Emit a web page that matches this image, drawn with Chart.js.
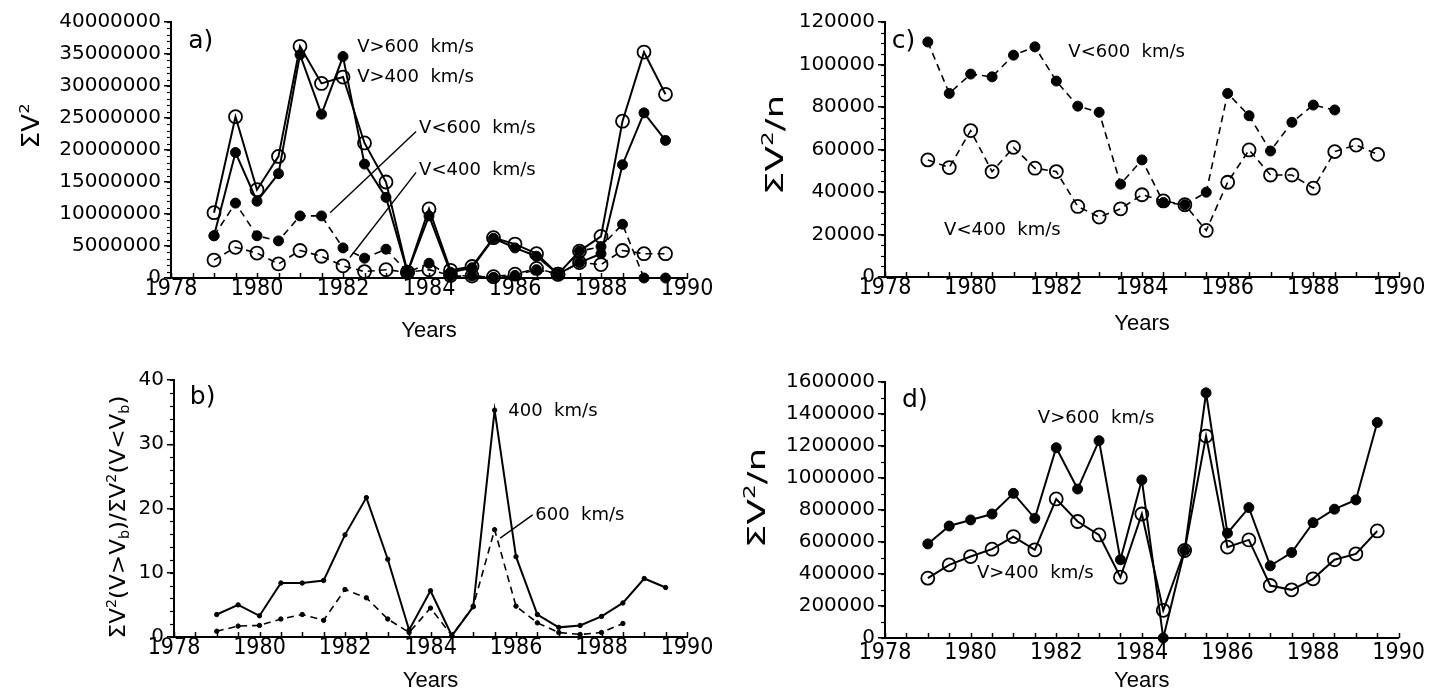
<!DOCTYPE html>
<html>
<head>
<meta charset="utf-8">
<script src="https://cdn.jsdelivr.net/npm/chart.js@4.4.0/dist/chart.umd.min.js"></script>
<style>
  html, body { margin: 0; padding: 0; background: #fff; }
  #wrap { position: relative; width: 1429px; height: 695px; }
  canvas { position: absolute; }
</style>
</head>
<body>
<div id="wrap">
  <canvas id="pa" width="714" height="347" style="left:0;top:0"></canvas>
  <canvas id="pb" width="714" height="348" style="left:0;top:347px"></canvas>
  <canvas id="pc" width="715" height="347" style="left:714px;top:0"></canvas>
  <canvas id="pd" width="715" height="348" style="left:714px;top:347px"></canvas>
</div>
<script>
// half-year bins
const years = [1979, 1979.5, 1980, 1980.5, 1981, 1981.5, 1982, 1982.5, 1983, 1983.5, 1984, 1984.5,
  1985, 1985.5, 1986, 1986.5, 1987, 1987.5, 1988, 1988.5, 1989, 1989.5];

// a) sum of V^2
const aAbove600 = [6.6e6, 19.6e6, 12.0e6, 16.3e6, 34.9e6, 25.6e6, 34.6e6, 17.8e6, 12.6e6, 0.9e6, 9.7e6, 0.9e6,
  1.6e6, 6.2e6, 4.7e6, 3.4e6, 0.6e6, 2.4e6, 3.8e6, 17.7e6, 25.8e6, 21.5e6];
const aAbove400 = [10.2e6, 25.2e6, 13.8e6, 19.0e6, 36.2e6, 30.4e6, 31.4e6, 21.1e6, 15.0e6, 0.9e6, 10.8e6, 1.2e6,
  1.8e6, 6.3e6, 5.3e6, 3.8e6, 0.6e6, 4.2e6, 6.5e6, 24.5e6, 35.3e6, 28.7e6];
const aBelow600 = [6.6e6, 11.7e6, 6.6e6, 5.8e6, 9.7e6, 9.7e6, 4.7e6, 3.1e6, 4.5e6, 0.9e6, 2.3e6, 0.3e6,
  0.3e6, 0.1e6, 0.4e6, 1.3e6, 0.6e6, 4.2e6, 4.9e6, 8.4e6, 0, 0];
const aBelow400 = [2.8e6, 4.8e6, 3.9e6, 2.2e6, 4.3e6, 3.4e6, 1.9e6, 1.0e6, 1.3e6, 0.9e6, 1.3e6, 0.4e6,
  0.3e6, 0.2e6, 0.6e6, 1.5e6, 0.6e6, 2.4e6, 2.1e6, 4.3e6, 3.8e6, 3.8e6];

// b) ratio above / below boundary speed
const bRatio400 = [3.5, 5.0, 3.3, 8.4, 8.4, 8.8, 15.9, 21.7, 12.1, 1.1, 7.2, 0.2,
  4.7, 35.3, 12.5, 3.5, 1.5, 1.8, 3.2, 5.3, 9.1, 7.7];
const bRatio600 = [0.9, 1.7, 1.8, 2.8, 3.5, 2.6, 7.4, 6.1, 2.8, 0.7, 4.5, 0.2,
  4.8, 16.7, 4.8, 2.2, 0.7, 0.4, 0.7, 2.1];

// c) mean V^2, slow wind
const cBelow600 = [110600, 86400, 95500, 94200, 104400, 108300, 92200, 80400, 77500, 43700, 55100, 35100,
  34000, 39900, 86400, 75900, 59300, 72800, 80900, 78600];
const cBelow400 = [55100, 51500, 68900, 49600, 61000, 51200, 49600, 33200, 28200, 32100, 38700, 35800,
  34000, 21900, 44600, 59800, 48000, 48000, 41800, 59000, 62100, 57700];

// d) mean V^2, fast wind
const dAbove600 = [588000, 700000, 738000, 775000, 904000, 748000, 1189000, 931000, 1233000, 489000, 988000, 0,
  547000, 1532000, 655000, 815000, 451000, 534000, 721000, 805000, 863000, 1347000];
const dAbove400 = [374000, 457000, 509000, 555000, 634000, 551000, 869000, 728000, 644000, 380000, 775000, 173000,
  547000, 1262000, 568000, 613000, 328000, 301000, 370000, 489000, 526000, 669000];

const FONT = "'DejaVu Sans', sans-serif";
const XFONT = "'Liberation Sans Narrow', 'DejaVu Sans Condensed', 'Liberation Sans', sans-serif";

function series(values, filled, dashed, r) {
  return {
    data: values.map((v, i) => ({ x: years[i], y: v })),
    borderColor: "#000",
    borderWidth: dashed ? 1.6 : 2,
    borderDash: dashed ? [7, 5] : [],
    pointRadius: r,
    pointHoverRadius: r,
    pointBackgroundColor: filled ? "#000" : "rgba(0,0,0,0)",
    pointBorderColor: "#000",
    pointBorderWidth: filled ? 1 : 1.8,
    tension: 0,
    fill: false,
    clip: false,
  };
}

function richTitle(ctx, t) {
  const base = t.size;
  const parts = t.parts.map((p) => {
    const sz = p.k === "n" ? base : base * 0.62;
    ctx.font = sz + "px " + FONT;
    return { text: p.t, k: p.k, sz: sz, w: ctx.measureText(p.t).width };
  });
  const total = parts.reduce((s, p) => s + p.w, 0);
  ctx.save();
  ctx.fillStyle = "#000";
  ctx.translate(t.cx, t.cy);
  ctx.rotate(-Math.PI / 2);
  ctx.scale(t.stretch, 1);
  let x = -total / 2;
  ctx.textAlign = "left";
  ctx.textBaseline = "alphabetic";
  for (const p of parts) {
    ctx.font = p.sz + "px " + FONT;
    let y = base * 0.36;
    if (p.k === "sup") y -= base * 0.42;
    if (p.k === "sub") y += base * 0.2;
    ctx.fillText(p.text, x, y);
    x += p.w;
  }
  ctx.restore();
}

const decorFor = {};

const decor = {
  id: "decor",
  afterDraw(chart) {
    const d = decorFor[chart.canvas.id];
    if (!d) return;
    const ctx = chart.ctx;
    const xs = chart.scales.x;
    const ys = chart.scales.y;
    const area = chart.chartArea;
    ctx.save();
    ctx.strokeStyle = "#000";
    ctx.fillStyle = "#000";
    ctx.setLineDash([]);

    // inward x ticks every half year
    ctx.lineWidth = 1.5;
    for (let v = xs.min; v <= xs.max + 1e-9; v += 0.5) {
      const px = Math.round(xs.getPixelForValue(v)) + 0.5;
      ctx.beginPath();
      ctx.moveTo(px, area.bottom);
      ctx.lineTo(px, area.bottom - 5);
      ctx.stroke();
    }
    // minor y ticks
    ctx.lineWidth = 1.2;
    for (let v = ys.min; v <= ys.max + 1e-9; v += d.yMinor) {
      const py = Math.round(ys.getPixelForValue(v)) + 0.5;
      ctx.beginPath();
      ctx.moveTo(area.left, py);
      ctx.lineTo(area.left - 4, py);
      ctx.stroke();
    }
    // leader lines
    ctx.lineWidth = 1.4;
    for (const l of d.lines) {
      ctx.beginPath();
      ctx.moveTo(xs.getPixelForValue(l[0]), ys.getPixelForValue(l[1]));
      ctx.lineTo(xs.getPixelForValue(l[2]), ys.getPixelForValue(l[3]));
      ctx.stroke();
    }
    // in-plot texts
    ctx.textAlign = "left";
    ctx.textBaseline = "middle";
    for (const t of d.texts) {
      ctx.font = (t.size || 18) + "px " + FONT;
      ctx.fillText(t.t, xs.getPixelForValue(t.x), ys.getPixelForValue(t.y));
    }
    ctx.restore();
    richTitle(ctx, d.title);
  },
};

function makeChart(id, sets, cfg) {
  return new Chart(document.getElementById(id), {
    type: "line",
    data: { datasets: sets },
    options: {
      responsive: false,
      animation: false,
      events: [],
      layout: { padding: { left: 0, top: cfg.top, right: cfg.right, bottom: cfg.bottom } },
      plugins: { legend: { display: false }, tooltip: { enabled: false } },
      scales: {
        x: {
          type: "linear",
          min: 1978,
          max: 1990,
          afterFit: (s) => { s.height = cfg.xh; },
          grid: { display: true, drawOnChartArea: false, drawTicks: false },
          border: { display: true, color: "#000", width: 2 },
          ticks: {
            stepSize: 2,
            autoSkip: false,
            maxRotation: 0,
            color: "#000",
            padding: cfg.xpad,
            font: { family: XFONT, size: 23, lineHeight: 1 },
            callback: (v) => String(v),
          },
          title: {
            display: true,
            text: "Years",
            color: "#000",
            font: { family: "'Liberation Sans', sans-serif", size: 22, lineHeight: 1 },
            padding: { top: 0, bottom: 0 },
          },
        },
        y: {
          min: 0,
          max: cfg.ymax,
          afterFit: (s) => { s.width = cfg.yw; },
          grid: { display: true, drawOnChartArea: false, drawTicks: true, tickLength: 7, color: "#000", lineWidth: 1.5 },
          border: { display: true, color: "#000", width: 2 },
          ticks: {
            stepSize: cfg.ystep,
            color: "#000",
            padding: 3,
            font: { family: FONT, size: 20 },
            callback: (v) => String(v),
          },
        },
      },
    },
    plugins: [decor],
  });
}

// Chart.js paints the first dataset on top, so filled markers come first.

// ---- a)
decorFor.pa = {
  yMinor: 1e6,
  texts: [
    { x: 1978.4, y: 36.9e6, t: "a)", size: 25 },
    { x: 1982.33, y: 36.1e6, t: "V>600  km/s" },
    { x: 1982.33, y: 31.4e6, t: "V>400  km/s" },
    { x: 1983.77, y: 23.4e6, t: "V<600  km/s" },
    { x: 1983.77, y: 16.8e6, t: "V<400  km/s" },
  ],
  lines: [
    [1981.7, 10.2e6, 1983.7, 22.9e6],
    [1982.16, 3.2e6, 1983.7, 16.5e6],
  ],
  title: { cx: 30, cy: 126, size: 24, stretch: 1.1, parts: [{ t: "ΣV", k: "n" }, { t: "2", k: "sup" }] },
};
makeChart("pa", [
  series(aAbove600, true, false, 5),
  series(aBelow600, true, true, 5),
  series(aAbove400, false, false, 6.5),
  series(aBelow400, false, true, 6.5),
], { top: 22, right: 27, bottom: 5, xh: 64, yw: 171, xpad: 0, ymax: 40e6, ystep: 5e6 });

// ---- b)
decorFor.pb = {
  yMinor: 2,
  texts: [
    { x: 1978.37, y: 37.2, t: "b)", size: 25 },
    { x: 1985.82, y: 35.1, t: "400  km/s" },
    { x: 1986.45, y: 19.0, t: "600  km/s" },
  ],
  lines: [[1985.63, 15.4, 1986.39, 19.0]],
  title: {
    cx: 117, cy: 170, size: 22, stretch: 1.05,
    parts: [
      { t: "ΣV", k: "n" }, { t: "2", k: "sup" }, { t: "(V>V", k: "n" }, { t: "b", k: "sub" }, { t: ")/ΣV", k: "n" },
      { t: "2", k: "sup" }, { t: "(V<V", k: "n" }, { t: "b", k: "sub" }, { t: ")", k: "n" },
    ],
  },
};
makeChart("pb", [
  series(bRatio400, true, false, 2.2),
  series(bRatio600, true, true, 2.2),
], { top: 33, right: 27, bottom: 3, xh: 55, yw: 174, xpad: 0, ymax: 40, ystep: 10 });

// ---- c)
decorFor.pc = {
  yMinor: 5000,
  texts: [
    { x: 1978.16, y: 110700, t: "c)", size: 25 },
    { x: 1982.28, y: 105800, t: "V<600  km/s" },
    { x: 1979.38, y: 21800, t: "V<400  km/s" },
  ],
  lines: [],
  title: { cx: 60, cy: 145, size: 25, stretch: 1.5, parts: [{ t: "ΣV", k: "n" }, { t: "2", k: "sup" }, { t: "/n", k: "n" }] },
};
makeChart("pc", [
  series(cBelow600, true, true, 5),
  series(cBelow400, false, true, 6.5),
], { top: 22, right: 30, bottom: 12, xh: 58, yw: 171, xpad: 0, ymax: 120000, ystep: 20000 });

// ---- d)
decorFor.pd = {
  yMinor: 100000,
  texts: [
    { x: 1978.4, y: 1486000, t: "d)", size: 25 },
    { x: 1981.57, y: 1372000, t: "V>600  km/s" },
    { x: 1980.15, y: 405000, t: "V>400  km/s" },
  ],
  lines: [],
  title: { cx: 42, cy: 151, size: 25, stretch: 1.5, parts: [{ t: "ΣV", k: "n" }, { t: "2", k: "sup" }, { t: "/n", k: "n" }] },
};
makeChart("pd", [
  series(dAbove600, true, false, 5),
  series(dAbove400, false, false, 6.5),
], { top: 35, right: 30, bottom: 3, xh: 54, yw: 171, xpad: 4, ymax: 1600000, ystep: 200000 });
</script>
</body>
</html>
